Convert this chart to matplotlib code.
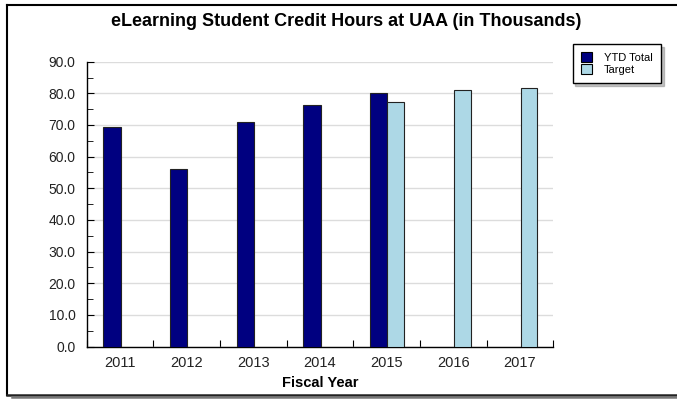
import numpy as np
import matplotlib.pyplot as plt
from matplotlib.lines import Line2D
from matplotlib.patches import Rectangle

years = ["2011", "2012", "2013", "2014", "2015", "2016", "2017"]
ytd_total = [69.4, 56.2, 70.9, 76.4, 80.0, np.nan, np.nan]
target = [np.nan, np.nan, np.nan, np.nan, 77.3, 81.0, 81.7]

plt.rcParams["font.family"] = ["Liberation Sans", "DejaVu Sans"]

W, H = 677, 400
fig = plt.figure(figsize=(W / 100, H / 100), dpi=100)
fig.patch.set_facecolor("white")

# Plot area (pixel coords from the reference)
left, right, top, bottom = 86.7, 553.3, 61.7, 346.5
ax = fig.add_axes([left / W, 1 - bottom / H, (right - left) / W, (bottom - top) / H])

x = np.arange(len(years))
ax.bar(x - 0.12, ytd_total, width=0.26, color="#000080",
       edgecolor="#222222", linewidth=0.8, label="YTD Total", zorder=3)
ax.bar(x + 0.135, target, width=0.25, color="#ADD8E6",
       edgecolor="#222222", linewidth=0.8, label="Target", zorder=3)

ax.set_xlim(-0.5, len(years) - 0.5)
ax.set_ylim(0, 90)

# y axis
ax.set_yticks(np.arange(0, 91, 10))
ax.set_yticks(np.arange(5, 90, 10), minor=True)
ax.set_yticklabels([f"{v:.1f}" for v in np.arange(0, 91, 10)])
ax.yaxis.grid(True, which="major", color="#dcdcdc", linewidth=1, zorder=0)
ax.tick_params(axis="y", which="major", direction="in", length=5,
               labelsize=10, pad=8, colors="black", labelcolor="#222222")
ax.tick_params(axis="y", which="minor", direction="in", length=4)

# x axis: tick marks at boundaries, labels at centres
ax.set_xticks(np.arange(-0.5, len(years), 1.0))
ax.set_xticklabels([])
ax.set_xticks(x, minor=True)
ax.set_xticklabels(years, minor=True)
ax.tick_params(axis="x", which="major", direction="in", length=5)
ax.tick_params(axis="x", which="minor", length=0, labelsize=10.5, pad=7,
               labelcolor="#222222")

for s in ["top", "right"]:
    ax.spines[s].set_visible(False)
for s in ["left", "bottom"]:
    ax.spines[s].set_linewidth(1)
    ax.spines[s].set_color("black")

ax.set_xlabel("Fiscal Year", fontsize=10.5, fontweight="bold", labelpad=4)

fig.text(346 / W, 1 - 22 / H, "eLearning Student Credit Hours at UAA (in Thousands)",
         ha="center", va="center", fontsize=13, fontweight="bold")

# legend
handles = [Rectangle((0, 0), 1, 1, facecolor="#000080", edgecolor="black", linewidth=0.8),
           Rectangle((0, 0), 1, 1, facecolor="#ADD8E6", edgecolor="black", linewidth=0.8)]
leg = fig.legend(handles, ["YTD Total", "Target"], loc="upper left",
                 bbox_to_anchor=(572.7 / W, 1 - 44 / H), fontsize=8,
                 frameon=True, fancybox=False, shadow={"color": "#888888"},
                 edgecolor="black", framealpha=1, borderpad=0.75,
                 handlelength=0.95, handleheight=0.9, handletextpad=1.1,
                 labelspacing=0.15, borderaxespad=0)
leg.get_frame().set_linewidth(1)

# outer border with shadow
fig.add_artist(Line2D([6.5 / W, 1], [1 - 4.5 / H, 1 - 4.5 / H], color="black", lw=1.5))
fig.add_artist(Line2D([6.5 / W, 6.5 / W], [1 - 4.5 / H, 1 - 394.5 / H], color="black", lw=1.5))
fig.add_artist(Line2D([6.5 / W, 1], [1 - 394.5 / H, 1 - 394.5 / H], color="#222222", lw=1.8))
fig.add_artist(Line2D([12 / W, 1], [1 - 397 / H, 1 - 397 / H], color="#777777", lw=1.8))

fig.savefig("out.png", dpi=100)
